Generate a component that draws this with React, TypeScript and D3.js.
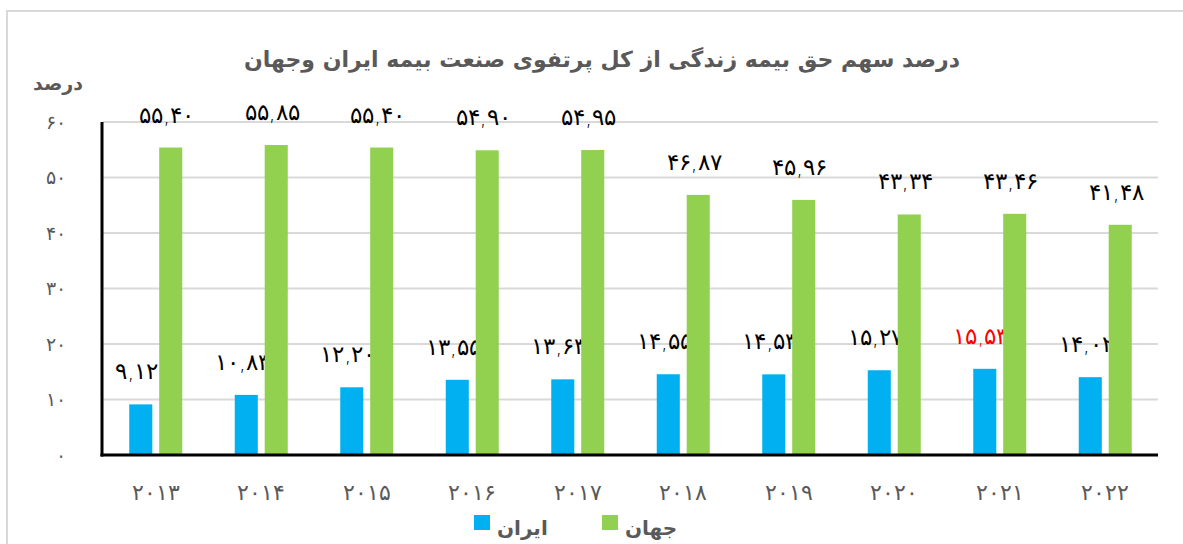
import * as d3 from "d3";

const years = ["2013", "2014", "2015", "2016", "2017", "2018", "2019", "2020", "2021", "2022"];
const iranValues = [9.12, 10.83, 12.2, 13.55, 13.63, 14.55, 14.53, 15.27, 15.53, 14.02];
const worldValues = [55.4, 55.85, 55.4, 54.9, 54.95, 46.87, 45.96, 43.34, 43.46, 41.48];
const yTicks = [0, 10, 20, 30, 40, 50, 60];
const seriesNames = ["ایران", "جهان"];
const highlightYear = "2021"; // red label on Iran bar

const title = "درصد سهم حق بیمه زندگی از کل پرتفوی صنعت بیمه ایران وجهان";
const yTitle = "درصد";

const W = 1183;
const H = 544;
const FONT = "'DejaVu Sans', sans-serif";
const GRAY = "#595959";
const colors = ["#00B0F0", "#92D050"];

const faDigits = "۰۱۲۳۴۵۶۷۸۹";
function toFa(s: string) {
  return s.replace(/\d/g, (d) => faDigits[+d]).replace(/\./g, ",");
}

export default function App() {
  const plot = { left: 103, right: 1158, top: 122, bottom: 455 };

  const x = d3.scaleBand().domain(years).range([plot.left, plot.right]).padding(0);
  const groupW = 53;
  const sub = d3.scaleBand().domain(["iran", "world"]).range([0, groupW]).paddingInner(0.23);
  const y = d3.scaleLinear().domain([0, 60]).range([plot.bottom, plot.top]);

  const rows = years.map((yr, i) => ({ year: yr, iran: iranValues[i], world: worldValues[i] }));

  return (
    <svg width={W} height={H} style={{ position: "absolute", left: 0, top: 0 }}>
      <rect x={0} y={0} width={W} height={H} fill="#fff" />
      {/* outer chart border */}
      <path d={`M7,${H} V11 H${W}`} fill="none" stroke="#D9D9D9" strokeWidth={2} />

      <text x={602} y={67} textAnchor="middle" fontFamily={FONT} fontWeight="bold" fontSize={22} fill={GRAY}>
        {title}
      </text>
      <text x={58} y={90} textAnchor="middle" fontFamily={FONT} fontWeight="bold" fontSize={19} fill={GRAY}>
        {yTitle}
      </text>

      {/* grid + y ticks */}
      {yTicks.map((t) => (
        <g key={t}>
          {t > 0 && (
            <line x1={plot.left} x2={plot.right} y1={y(t)} y2={y(t)} stroke="#D9D9D9" strokeWidth={2} />
          )}
          <text x={66} y={y(t)} dy="0.35em" textAnchor="end" fontFamily={FONT} fontWeight={300} fontSize={19} fill={GRAY}>
            {toFa(String(t))}
          </text>
        </g>
      ))}

      {/* bars */}
      {rows.map((d) => {
        const gx = x(d.year)! + (x.bandwidth() - groupW) / 2;
        return (
          <g key={d.year} transform={`translate(${gx},0)`}>
            {(["iran", "world"] as const).map((k, si) => {
              const v = d[k];
              const bx = sub(k)!;
              const top = y(v);
              const red = k === "iran" && d.year === highlightYear;
              return (
                <g key={k}>
                  <rect x={bx} y={top} width={sub.bandwidth()} height={y(0) - top} fill={colors[si]} />
                  <text
                    x={bx + sub.bandwidth() / 2 - 4}
                    y={top - 25}
                    textAnchor="middle"
                    fontFamily={FONT}
                    fontWeight={300}
                    fontSize={23}
                    fill={red ? "#FF0000" : "#000"}
                  >
                    {toFa(v.toFixed(2))}
                  </text>
                </g>
              );
            })}
          </g>
        );
      })}

      {/* axes */}
      <line x1={plot.left - 1} x2={plot.left - 1} y1={plot.top} y2={plot.bottom + 1.5} stroke="#000" strokeWidth={3} />
      <line x1={plot.left - 2.5} x2={plot.right} y1={plot.bottom} y2={plot.bottom} stroke="#000" strokeWidth={3} />

      {years.map((yr) => (
        <text
          key={yr}
          x={x(yr)! + x.bandwidth() / 2}
          y={500}
          textAnchor="middle"
          fontFamily={FONT}
          fontWeight={300}
          fontSize={22}
          fill={GRAY}
        >
          {toFa(yr)}
        </text>
      ))}

      {/* legend */}
      {seriesNames.map((name, i) => {
        const lx = 474 + i * 128;
        return (
          <g key={name}>
            <rect x={lx} y={515} width={16} height={15} fill={colors[i]} />
            <text x={lx + 23} y={535} fontFamily={FONT} fontWeight="bold" fontSize={20} fill={GRAY}>
              {name}
            </text>
          </g>
        );
      })}
    </svg>
  );
}
